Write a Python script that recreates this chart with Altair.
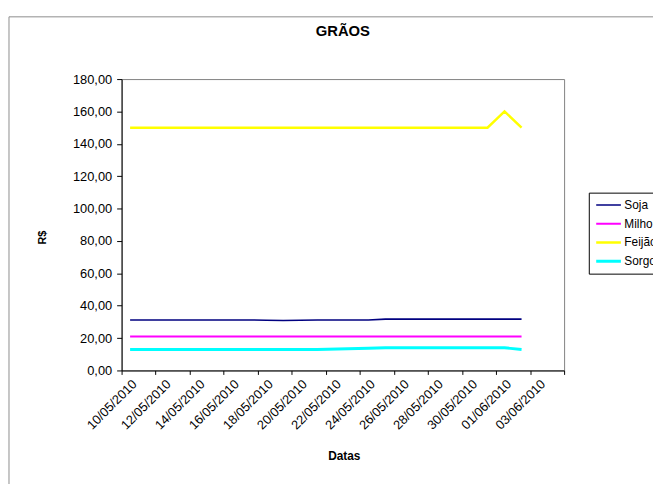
import altair as alt
import pandas as pd

# ---- data ----
dates = ["10/05/2010", "11/05/2010", "12/05/2010", "13/05/2010", "14/05/2010",
         "17/05/2010", "18/05/2010", "19/05/2010", "20/05/2010", "21/05/2010",
         "24/05/2010", "25/05/2010", "26/05/2010", "27/05/2010", "28/05/2010",
         "31/05/2010", "01/06/2010", "02/06/2010"]
soja = [31.2, 31.2, 31.2, 31.2, 31.2, 31.2, 31.0, 30.9, 31.0, 31.2,
        31.2, 31.7, 31.7, 31.7, 31.7, 31.7, 31.7, 31.7]
milho = [21.0, 21.0, 21.0, 21.0, 21.0, 21.0, 21.0, 21.0, 21.0, 21.0,
         21.0, 21.0, 21.0, 21.0, 21.0, 21.0, 21.0, 21.0]
feijao = [150.0, 150.0, 150.0, 150.0, 150.0, 150.0, 150.0, 150.0, 150.0, 150.0,
          150.0, 150.0, 150.0, 150.0, 150.0, 150.0, 160.0, 150.0]
sorgo = [13.0, 13.0, 13.0, 13.0, 13.0, 13.0, 13.0, 13.0, 13.0, 13.0,
         13.7, 14.0, 14.0, 14.0, 14.0, 14.0, 14.0, 13.0]

series_names = ["Soja", "Milho", "Feijão", "Sorgo"]
series_colors = ["#000080", "#FF00FF", "#FFFF00", "#00FFFF"]
series_widths = [1.6, 3, 3, 1.5]

tick_labels = ["10/05/2010", "12/05/2010", "14/05/2010", "16/05/2010", "18/05/2010",
               "20/05/2010", "22/05/2010", "24/05/2010", "26/05/2010", "28/05/2010",
               "30/05/2010", "01/06/2010", "03/06/2010", ""]

# ---- build table ----
start = pd.to_datetime(dates[0], format="%d/%m/%Y")
day_idx = [(pd.to_datetime(d, format="%d/%m/%Y") - start).days for d in dates]
rows = []
for name, vals in zip(series_names, [soja, milho, feijao, sorgo]):
    for d, di, v in zip(dates, day_idx, vals):
        rows.append({"Data": d, "dia": di, "Série": name, "R$": v})
df = pd.DataFrame(rows)

tick_values = [-0.5 + 2 * i for i in range(14)]
label_arr = "[" + ",".join("'%s'" % t for t in tick_labels) + "]"
x_label_expr = label_arr + "[round((datum.value + 0.5) / 2)]"

FONT = "Liberation Sans"

x_axis = alt.Axis(
    values=tick_values, labelExpr=x_label_expr, labelAngle=-45,
    labelOffset=8.6, labelFontSize=13, labelFont=FONT, labelColor="black",
    labelPadding=3, tickSize=4, tickColor="black", domainColor="black",
    grid=False, title="Datas", titleFont=FONT, titleFontSize=12,
    titleFontWeight="bold", titleColor="black", titleX=225, titleY=86,
    titleBaseline="middle", labelOverlap=False, labelBound=False, labelFlush=False,
    zindex=1,
)
y_axis = alt.Axis(
    values=list(range(0, 181, 20)),
    labelExpr="replace(format(datum.value, '.2f'), '.', ',')",
    labelFontSize=13, labelFont=FONT, labelColor="black", labelPadding=5,
    tickSize=5, tickColor="black", domainColor="black", grid=False,
    title="R$", titleFont=FONT, titleFontSize=11, titleFontWeight="bold",
    titleColor="black", titleX=-80, titleY=160, titleAngle=-90,
    titleBaseline="middle", titleAlign="center", zindex=1,
)

legend = alt.Legend(
    orient="none", legendX=473, legendY=115, title=None,
    symbolType="stroke", symbolSize=625, labelFont=FONT, labelFontSize=12,
    labelColor="black", strokeColor="black", fillColor="white", padding=6,
    rowPadding=6, clipHeight=13, labelOffset=2, cornerRadius=0, labelLimit=200,
)

lines = alt.Chart(df).mark_line().encode(
    x=alt.X("dia:Q", scale=alt.Scale(domain=[-0.5, 25.5], nice=False, zero=False), axis=x_axis),
    y=alt.Y("R$:Q", scale=alt.Scale(domain=[0, 180], nice=False), axis=y_axis),
    color=alt.Color("Série:N", scale=alt.Scale(domain=series_names, range=series_colors),
                    sort=series_names, legend=legend),
    strokeWidth=alt.StrokeWidth("Série:N", scale=alt.Scale(domain=series_names, range=series_widths),
                                sort=series_names, legend=legend),
    detail="Série:N",
)

frame = alt.Chart(pd.DataFrame({"k": [0]})).mark_rect(
    fillOpacity=0, stroke="#8c8c8c", strokeWidth=1
).encode(x=alt.value(-114), x2=alt.value(700), y=alt.value(-63), y2=alt.value(600))

title = alt.Chart(pd.DataFrame({"t": ["GRÃOS"]})).mark_text(
    font=FONT, fontSize=15, fontWeight="bold", color="black", baseline="middle", align="center"
).encode(text="t:N", x=alt.value(224), y=alt.value(-49))

chart = alt.layer(frame, title, lines).properties(
    width=448, height=295,
    autosize=alt.AutoSizeParams(type="none"),
    padding={"left": 115, "top": 69, "right": 90, "bottom": 112},
    background="white",
).configure_view(stroke="#808080", strokeWidth=1)

chart.save("out.html", embed_options={"renderer": "svg", "actions": False})
